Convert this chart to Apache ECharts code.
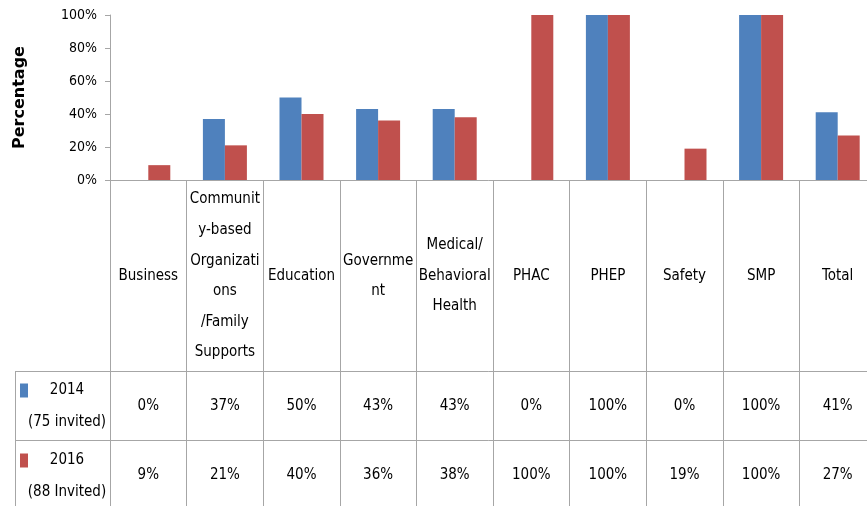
<!DOCTYPE html>
<html>
<head>
<meta charset="utf-8">
<script src="https://cdn.jsdelivr.net/npm/echarts@6/dist/echarts.min.js"></script>
<style>
  html, body { margin: 0; padding: 0; background: #fff; }
  #chart { width: 867px; height: 506px; }
</style>
</head>
<body>
<div id="chart"></div>
<script>
// categories (with the line breaks of the data table header)
var categories = ['Business', 'Communit\ny-based\nOrganizati\nons\n/Family\nSupports', 'Education',
  'Governme\nnt', 'Medical/\nBehavioral\nHealth', 'PHAC', 'PHEP', 'Safety', 'SMP', 'Total'];
var seriesNames = ['2014', '2016'];
var seriesNotes = ['(75 invited)', '(88 Invited)'];
var values2014 = [0, 37, 50, 43, 43, 0, 100, 0, 100, 41];
var values2016 = [9, 21, 40, 36, 38, 100, 100, 19, 100, 27];

var font = "'DejaVu Sans Condensed', sans-serif";
var gridColor = '#a6a6a6';
var blue = '#4F81BD', red = '#C0504D';

var chart = echarts.init(document.getElementById('chart'));

// table rows are extra category axes under the plot
function tableAxis(offset, tickLen, margin, formatter) {
    return {
        type: 'category',
        data: categories,
        position: 'bottom',
        offset: offset,
        axisLine: {show: true, lineStyle: {color: gridColor, width: 1}},
        axisTick: {show: true, interval: 0, length: tickLen, lineStyle: {color: gridColor}},
        axisLabel: {
            interval: 0, margin: margin, verticalAlign: 'middle',
            fontFamily: font, fontSize: 15, color: '#000', lineHeight: 30.6,
            formatter: formatter
        }
    };
}

function legendFor(i, top) {
    return {
        data: [seriesNames[i]],
        left: 20, top: top, padding: 0,
        orient: 'vertical', icon: 'rect',
        itemWidth: 8, itemHeight: 14,
        selectedMode: false,
        formatter: function (name) {
            return '{a|' + name + '}\n{a|' + seriesNotes[i] + '}';
        },
        textStyle: {
            padding: [32, 0, 0, 0],
            rich: {a: {width: 68, align: 'center', lineHeight: 32, fontSize: 15, fontFamily: font, color: '#000'}}
        }
    };
}

var option = {
    animation: false,
    grid: {left: 110, width: 766, top: 15, bottom: 326, containLabel: false, outerBoundsMode: 'none'},
    legend: [legendFor(0, 383), legendFor(1, 453)],
    xAxis: [
        tableAxis(0, 191, 96, function (v) { return v; }),
        tableAxis(191, 69, 35, function (v, i) { return values2014[i] + '%'; }),
        tableAxis(260, 70, 35, function (v, i) { return values2016[i] + '%'; })
    ],
    yAxis: {
        type: 'value', min: 0, max: 100, interval: 20,
        name: 'Percentage', nameLocation: 'middle', nameRotate: 90, nameGap: 82,
        nameTextStyle: {fontFamily: 'DejaVu Sans', fontWeight: 'bold', fontSize: 16, color: '#000'},
        axisLine: {show: true, lineStyle: {color: gridColor}},
        axisTick: {show: true, length: 5, lineStyle: {color: gridColor}},
        splitLine: {show: false},
        axisLabel: {formatter: '{value}%', fontFamily: font, fontSize: 14, color: '#000', margin: 13}
    },
    graphic: [
        {type: 'line', shape: {x1: 15.5, y1: 371, x2: 15.5, y2: 506}, style: {stroke: gridColor, lineWidth: 1}},
        {type: 'line', shape: {x1: 15, y1: 371.5, x2: 110, y2: 371.5}, style: {stroke: gridColor, lineWidth: 1}},
        {type: 'line', shape: {x1: 15, y1: 440.5, x2: 110, y2: 440.5}, style: {stroke: gridColor, lineWidth: 1}}
    ],
    series: [
        {name: seriesNames[0], type: 'bar', data: values2014, barWidth: 22, barGap: '0%', itemStyle: {color: blue}},
        {name: seriesNames[1], type: 'bar', data: values2016, barWidth: 22, barGap: '0%', itemStyle: {color: red}}
    ]
};

chart.setOption(option);
</script>
</body>
</html>
